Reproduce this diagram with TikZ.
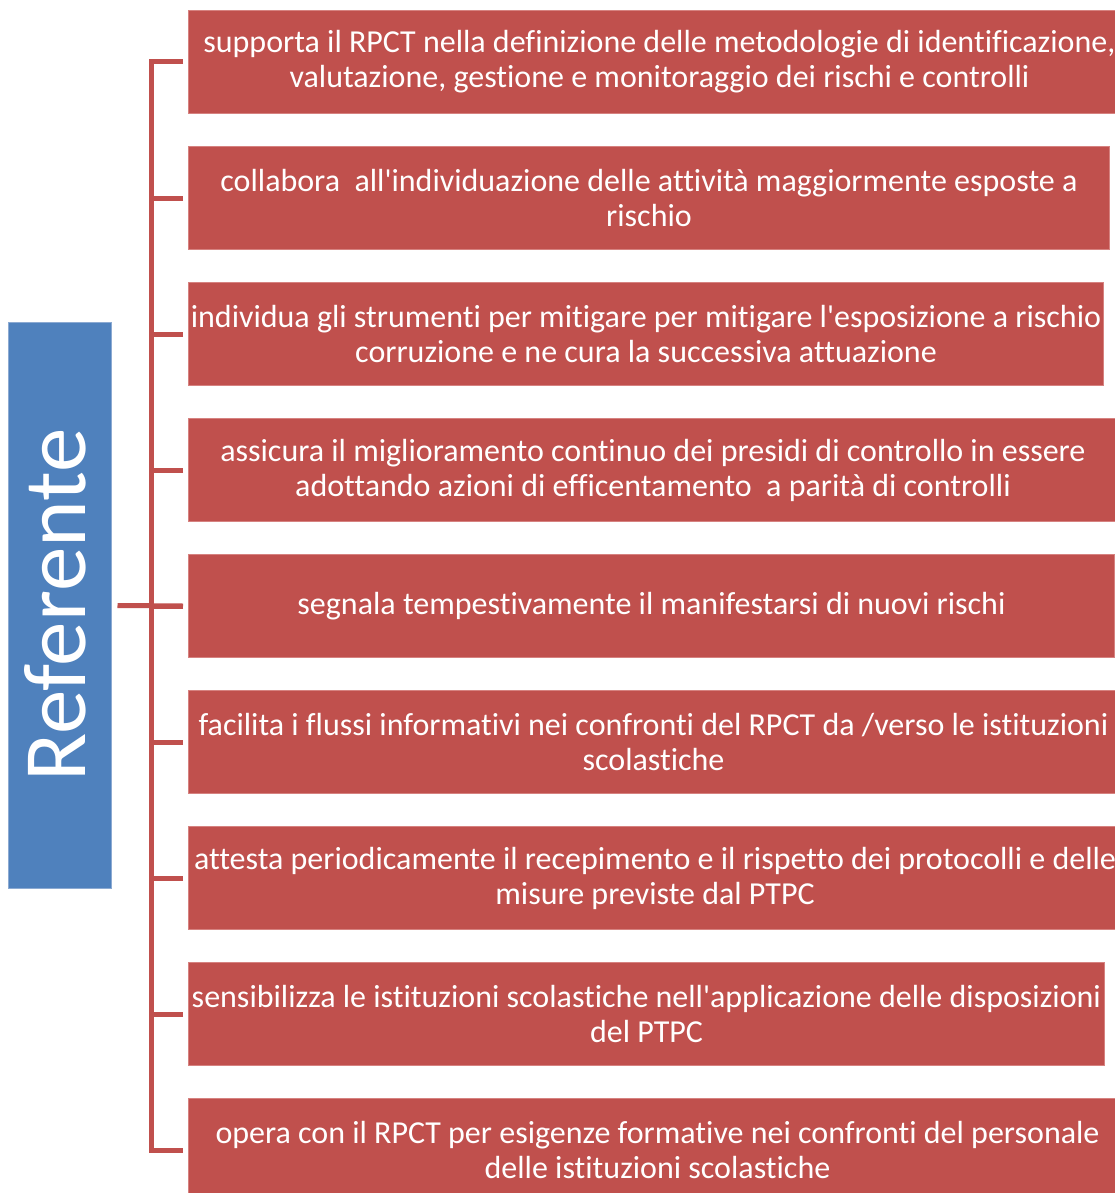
\documentclass[tikz,border=0pt]{standalone}
\usepackage{fontspec}
\setmainfont{Carlito}[Ligatures={NoCommon,TeXOff}]
\usetikzlibrary{positioning}
\definecolor{boxred}{RGB}{192,80,77}
\definecolor{edgered}{RGB}{214,130,128}
\definecolor{boxblue}{RGB}{79,129,189}
\definecolor{edgeblue}{RGB}{140,170,210}
\tikzset{
  task/.style={draw=edgered, line width=1pt, fill=boxred, text=white, anchor=north west,
    minimum height=103pt, inner sep=0pt, align=center,
    font=\fontsize{32}{35}\selectfont},
  role/.style={draw=edgeblue, line width=1pt, fill=boxblue, text=white,
    minimum width=103pt, minimum height=566pt, inner sep=0pt},
  conn/.style={draw=boxred, line width=5pt, line join=miter}
}
\begin{document}
\begin{tikzpicture}[x=1pt, y=-1pt]
        \useasboundingbox (0,0) rectangle (1115,1193);
        \clip (0,0) rectangle (1115,1193);

        \node[role] (ref) at (59.5,605.5) {};
        \node[rotate=90, text=white, font=\fontsize{89}{94}\selectfont] (reftext) at (55,605) {Referente};

        \node[task, minimum width=942pt] (b1) at (188,10) {supporta il RPCT nella definizione delle metodologie di identificazione,\\valutazione, gestione e monitoraggio dei rischi e controlli};
        \node[task, minimum width=921pt] (b2) at (188,146) {collabora\ \ all'individuazione delle attività maggiormente esposte a\\rischio};
        \node[task, minimum width=915pt] (b3) at (188,282) {individua gli strumenti per mitigare per mitigare l'esposizione a rischio\\corruzione e ne cura la successiva attuazione};
        \node[task, minimum width=929pt] (b4) at (188,418) {assicura il miglioramento continuo dei presidi di controllo in essere\\adottando azioni di efficentamento\ \ a parità di controlli};
        \node[task, minimum width=926pt] (b5) at (188,554) {segnala tempestivamente il manifestarsi di nuovi rischi};
        \node[task, minimum width=930pt] (b6) at (188,690) {facilita i flussi informativi nei confronti del RPCT da /verso le istituzioni\\scolastiche};
        \node[task, minimum width=933pt] (b7) at (188,826) {attesta periodicamente il recepimento e il rispetto dei protocolli e delle\\misure previste dal PTPC};
        \node[task, minimum width=916pt] (b8) at (188,962) {sensibilizza le istituzioni scolastiche nell'applicazione delle disposizioni\\del PTPC};
        \node[task, minimum width=938pt] (b9) at (188,1098) {opera con il RPCT per esigenze formative nei confronti del personale\\delle istituzioni scolastiche};

        % bracket
        \draw[conn] ([xshift=-5pt]b1.west) -- ++(-32,0) |- ([xshift=-5pt]b9.west);
        \foreach \i in {2,...,8}
            \draw[conn] ([xshift=-5pt]b\i.west) -- ++(-32,0);
        \draw[conn] ([xshift=6pt]ref.east) -- ([xshift=-5pt]b5.west);
    \end{tikzpicture}
\end{document}
